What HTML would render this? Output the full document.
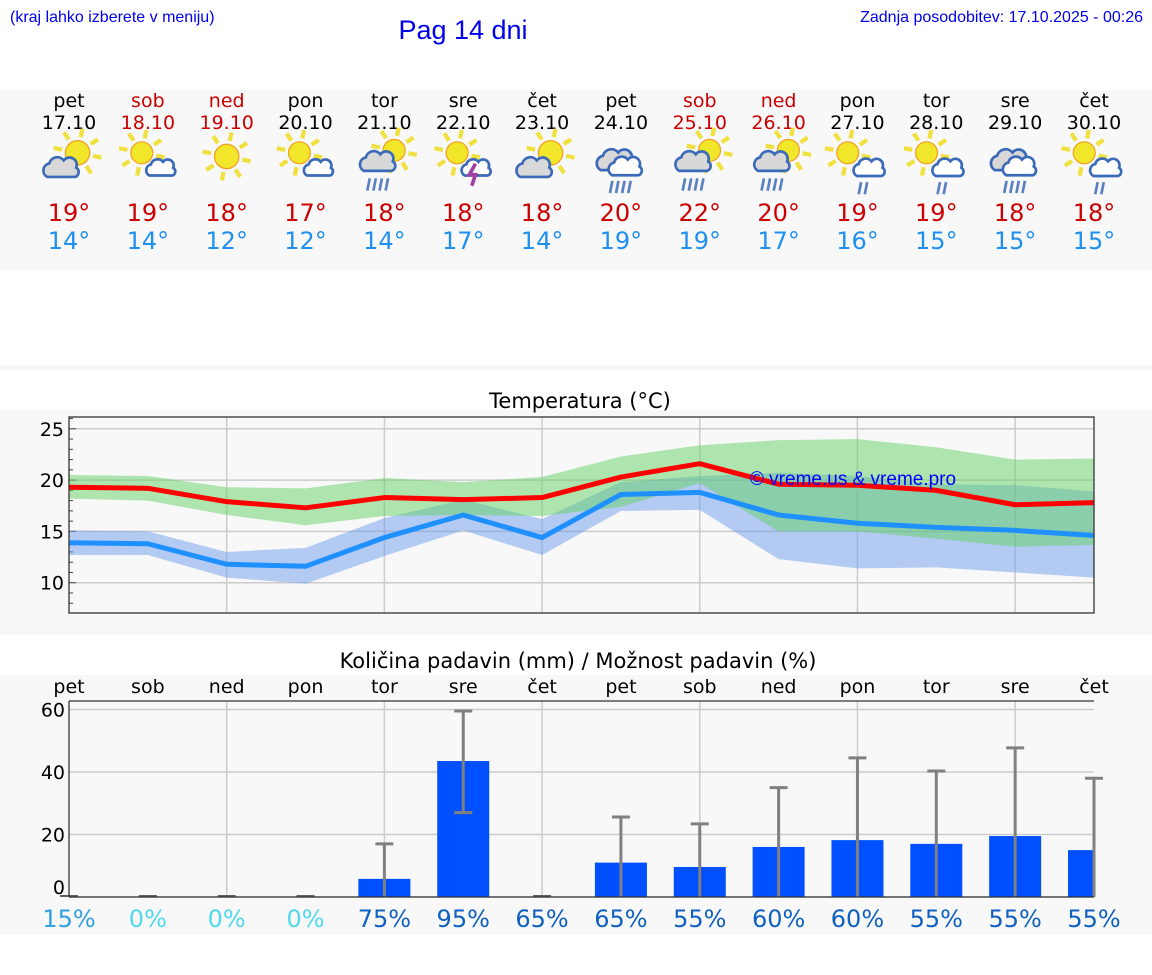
<!DOCTYPE html>
<html><head><meta charset="utf-8">
<style>
html,body{margin:0;padding:0;background:#fff;width:1152px;height:975px;overflow:hidden}
svg{display:block}
text{font-family:"DejaVu Sans","Liberation Sans",sans-serif}
.lib{font-family:"Liberation Sans",sans-serif}
</style></head>
<body>
<svg id="c" width="1152" height="975" xmlns="http://www.w3.org/2000/svg">
  <rect x="0" y="90" width="1152" height="180" fill="#f8f8f8"/>
  <rect x="0" y="365" width="1152" height="5" fill="#f8f8f8"/>
  <rect x="0" y="410" width="1152" height="225" fill="#f8f8f8"/>
  <rect x="0" y="675" width="1152" height="260" fill="#f8f8f8"/>
  <text class="lib" x="10" y="22" font-size="16" fill="#0000ee">(kraj lahko izberete v meniju)</text>
  <text class="lib" x="463" y="39" font-size="27" fill="#0000ee" text-anchor="middle">Pag 14 dni</text>
  <text class="lib" x="1143" y="22" font-size="16" fill="#0000ee" text-anchor="end">Zadnja posodobitev: 17.10.2025 - 00:26</text>
  <text x="580" y="408" font-size="21" fill="#000" text-anchor="middle">Temperatura (°C)</text>
  <text x="578" y="668" font-size="21" fill="#000" text-anchor="middle">Količina padavin (mm) / Možnost padavin (%)</text>
  <g id="hdr"></g>
  <g id="temp"></g>
  <g id="prec"></g>
</svg>
<script>
const days=["pet","sob","ned","pon","tor","sre","čet","pet","sob","ned","pon","tor","sre","čet"];
const dates=["17.10","18.10","19.10","20.10","21.10","22.10","23.10","24.10","25.10","26.10","27.10","28.10","29.10","30.10"];
const weekend=[0,1,1,0,0,0,0,0,1,1,0,0,0,0];
const icons=["psc","sc","sun","sc","rsc","storm","psc","cr","rsc","rsc","sr","sr","cr","sr"];
const hiLabels=[19,19,18,17,18,18,18,20,22,20,19,19,18,18];
const loLabels=[14,14,12,12,14,17,14,19,19,17,16,15,15,15];
const tMax=[19.3,19.2,17.9,17.3,18.3,18.1,18.3,20.3,21.6,19.6,19.5,19.0,17.6,17.8];
const tMin=[13.9,13.8,11.8,11.6,14.4,16.6,14.4,18.6,18.8,16.6,15.8,15.4,15.1,14.6];
const maxLo=[18.2,18.0,16.6,15.6,16.5,16.6,16.5,17.4,19.7,15.0,15.0,14.3,13.5,13.7];
const maxHi=[20.5,20.4,19.3,19.2,20.2,19.8,20.3,22.3,23.4,23.9,24.0,23.2,22.0,22.1];
const minLo=[12.7,12.7,10.5,9.9,12.6,15.1,12.7,17.0,17.1,12.3,11.4,11.5,11.0,10.5];
const minHi=[15.1,15.0,13.0,13.4,16.3,18.1,16.2,19.8,20.4,20.7,20.4,19.6,19.5,18.9];
const tTicks=[10,15,20,25];
const rain=[0,0,0,0,5.8,43.5,0,11,9.6,16,18.2,17,19.5,15];
const rainErrLo=[0,0,0,0,0,27,0,0,0,0,0,0,0,0];
const rainErrHi=[0,0,0,0,17,59.5,0,25.6,23.4,35,44.5,40.3,47.7,38];
const pct=[15,0,0,0,75,95,65,65,55,60,60,55,55,55];
const pTicks=[0,20,40,60];

const NS="http://www.w3.org/2000/svg";
function mk(tag,attrs,parent){const e=document.createElementNS(NS,tag);for(const k in attrs)e.setAttribute(k,attrs[k]);parent.appendChild(e);return e;}
const X0=69,X1=1094;
const xs=i=>X0+i*(X1-X0)/13;
const TY0=417,TY1=613,tLo=7.05,tHi=26.15;
const ty=v=>TY1-(v-tLo)/(tHi-tLo)*(TY1-TY0);
const PY0=701,PY1=897,pHi=62.7;
const py=v=>PY1-v/pHi*(PY1-PY0);

const hdr=document.getElementById('hdr');
function sun(g,cx,cy,r){
  for(let k=0;k<8;k++){const a=k*Math.PI/4+0.2;
    mk('line',{x1:cx+Math.cos(a)*(r+3),y1:cy+Math.sin(a)*(r+3),x2:cx+Math.cos(a)*(r+10),y2:cy+Math.sin(a)*(r+10),stroke:'#f0e040','stroke-width':3.5},g);}
  mk('circle',{cx:cx,cy:cy,r:r,fill:'#f2e62a',stroke:'#f0a020','stroke-width':1},g);
}
function cloud(g,cx,cy,s,fill){
  const p=`M${cx-14*s},${cy+8*s} a${7*s},${7*s} 0 0 1 ${2*s},${-13*s} a${8*s},${8*s} 0 0 1 ${14*s},${-3*s} a${7*s},${7*s} 0 0 1 ${12*s},${7*s} a${5*s},${5*s} 0 0 1 ${-1*s},${9*s} z`;
  mk('path',{d:p,fill:fill,stroke:'#3a6ab8','stroke-width':2.2},g);
}
function rainDrops(g,cx,cy,n){for(let k=0;k<n;k++){mk('line',{x1:cx-7+k*5,y1:cy,x2:cx-9+k*5,y2:cy+10,stroke:'#5a80c0','stroke-width':2.2},g);}}
days.forEach((d,i)=>{
  const x=xs(i),col=weekend[i]?'#cc0000':'#000';
  const g=mk('g',{},hdr);
  
  
  const t1=mk('text',{x:x,y:107,'font-size':19,fill:col,'text-anchor':'middle'},g);t1.textContent=d;
  const t2=mk('text',{x:x,y:129,'font-size':19,fill:col,'text-anchor':'middle'},g);t2.textContent=dates[i];
  const ic=mk('g',{transform:`translate(${x},165) scale(1.22) translate(${-x},-165)`},g);
  
  
  const t=icons[i];
  if(t==='sun'){sun(ic,x,158,10);}
  else if(t==='sc'){sun(ic,x-5,155,9);cloud(ic,x+11,168,0.7,'#fff');}
  else if(t==='psc'){sun(ic,x+7,155,10);cloud(ic,x-6,168,0.85,'#d8d8d8');}
  else if(t==='rsc'){sun(ic,x+8,153,9);cloud(ic,x-5,163,0.85,'#d8d8d8');rainDrops(ic,x-5,176,4);}
  else if(t==='storm'){sun(ic,x-5,155,9);cloud(ic,x+11,168,0.7,'#fff');mk('path',{d:`M${x+10},${164} l-5,9 h5 l-3,9`,fill:'none',stroke:'#a040a0','stroke-width':3},ic);}
  else if(t==='cr'){cloud(ic,x-4,162,0.9,'#d8d8d8');cloud(ic,x+4,167,0.8,'#fff');rainDrops(ic,x,178,4);}
  else if(t==='sr'){sun(ic,x-8,155,9);cloud(ic,x+10,168,0.75,'#fff');rainDrops(ic,x+10,179,2);}
  const h=mk('text',{x:x,y:221,'font-size':24,fill:'#cc0000','text-anchor':'middle'},g);h.textContent=hiLabels[i]+'°';
  const l=mk('text',{x:x,y:249,'font-size':24,fill:'#2090f0','text-anchor':'middle'},g);l.textContent=loLabels[i]+'°';
});

const tg=document.getElementById('temp');
mk('rect',{x:X0,y:TY0,width:X1-X0,height:TY1-TY0,fill:'#f8f8f8'},tg);
for(let i=2;i<13;i+=2){const v=mk('line',{x1:xs(i),x2:xs(i),y1:TY0,y2:TY1,stroke:'#ccc','stroke-width':1.5},tg);}
tTicks.forEach(v=>{mk('line',{x1:X0,x2:X1,y1:ty(v),y2:ty(v),stroke:'#ccc','stroke-width':1.5},tg);
  const t=mk('text',{x:X0-5,y:ty(v)+7,'font-size':19,'text-anchor':'end',fill:'#000'},tg);t.textContent=v;
  });
for(let v=8;v<=26;v++){mk('line',{x1:X0,x2:X0+(v%5?4:7),y1:ty(v),y2:ty(v),stroke:'#444','stroke-width':1},tg);}
function band(lo,hi,fill,name){
  let d='M'+lo.map((v,i)=>xs(i)+','+ty(v)).join(' L')+' L'+hi.map((v,i)=>xs(i)+','+ty(v)).reverse().join(' L')+'Z';
  const p=mk('path',{d:d,fill:fill},tg);
}
band(minLo,minHi,'rgba(110,155,235,0.5)','min-temp-range');
band(maxLo,maxHi,'rgba(100,210,100,0.5)','max-temp-range');
function line(vals,col,name){const p=mk('polyline',{points:vals.map((v,i)=>xs(i)+','+ty(v)).join(' '),fill:'none',stroke:col,'stroke-width':5,'stroke-linejoin':'round'},tg);}
line(tMin,'#1e90ff','min-temp-line');
line(tMax,'#ff0000','max-temp-line');
const wm=mk('text',{x:853,y:485,'font-size':19,fill:'#0000ff','text-anchor':'middle',class:'lib'},tg);wm.textContent='© vreme.us & vreme.pro';

mk('rect',{x:X0,y:TY0,width:X1-X0,height:TY1-TY0,fill:'none',stroke:'#333','stroke-width':1.3},tg);

const pg=document.getElementById('prec');
mk('rect',{x:X0,y:PY0,width:X1-X0,height:PY1-PY0,fill:'#f8f8f8'},pg);
for(let i=2;i<13;i+=2){mk('line',{x1:xs(i),x2:xs(i),y1:PY0,y2:PY1,stroke:'#ccc','stroke-width':1.5},pg);}
pTicks.forEach(v=>{mk('line',{x1:X0,x2:X1,y1:py(v),y2:py(v),stroke:'#ccc','stroke-width':1.5},pg);
  const t=mk('text',{x:X0-4,y:py(v)+(v===0?-3:7),'font-size':19,'text-anchor':'end',fill:'#000'},pg);t.textContent=v;
  });
days.forEach((d,i)=>{
  const x=xs(i);
  const t=mk('text',{x:x,y:693,'font-size':19,'text-anchor':'middle',fill:'#000'},pg);t.textContent=d;
  
  if(rain[i]>0){const w=(i===13)?26:52;const bx=(i===13)?x-w:x-26;
    const b=mk('rect',{x:bx,y:py(rain[i]),width:w,height:PY1-py(rain[i]),fill:'#0050ff'},pg);
    }
  if(rainErrHi[i]>0){const e=mk('g',{},pg);
    mk('line',{x1:x,x2:x,y1:py(rainErrHi[i]),y2:py(rainErrLo[i]),stroke:'#808080','stroke-width':3},e);
    mk('line',{x1:x-9,x2:x+9,y1:py(rainErrHi[i]),y2:py(rainErrHi[i]),stroke:'#808080','stroke-width':3},e);
    if(rainErrLo[i]>0)mk('line',{x1:x-9,x2:x+9,y1:py(rainErrLo[i]),y2:py(rainErrLo[i]),stroke:'#808080','stroke-width':3},e);}
  else{mk('line',{x1:x-9,x2:x+9,y1:PY1-1,y2:PY1-1,stroke:'#606060','stroke-width':2},pg);}
  const col=pct[i]===0?'#50d8ec':(pct[i]<30?'#30a0e0':'#1060c0');
  const p=mk('text',{x:x,y:927,'font-size':24,'text-anchor':'middle',fill:col},pg);p.textContent=pct[i]+'%';
  
});
mk('line',{x1:X0,x2:X0,y1:PY0,y2:PY1,stroke:'#333','stroke-width':1.3},pg);
mk('line',{x1:X0,x2:X1,y1:PY0,y2:PY0,stroke:'#333','stroke-width':1.3},pg);
mk('line',{x1:X0,x2:X1,y1:PY1,y2:PY1,stroke:'#333','stroke-width':1.3},pg);
</script>
</body></html>
